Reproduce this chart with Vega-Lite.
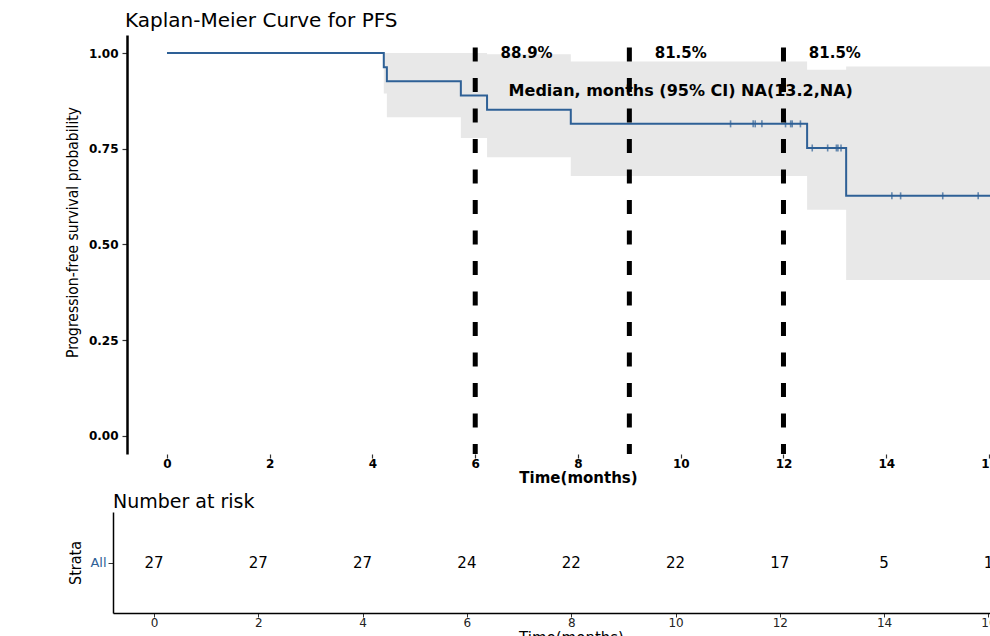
{
  "$schema": "https://vega.github.io/schema/vega-lite/v6.json",
  "padding": {"left": 65, "top": 10, "right": 0, "bottom": 0},
  "background": "white",
  "spacing": 8,
  "config": {"view": {"stroke": null}, "font": "DejaVu Sans"},
  "datasets": {
    "km": [
      {"time": 0, "surv": 1, "lower": 1, "upper": 1},
      {"time": 4.22, "surv": 0.963, "lower": 0.894, "upper": 1},
      {"time": 4.28, "surv": 0.926, "lower": 0.832, "upper": 1},
      {"time": 5.72, "surv": 0.889, "lower": 0.778, "upper": 1},
      {"time": 6.23, "surv": 0.852, "lower": 0.728, "upper": 0.997},
      {"time": 7.86, "surv": 0.815, "lower": 0.679, "upper": 0.978},
      {"time": 12.46, "surv": 0.752, "lower": 0.591, "upper": 0.956},
      {"time": 13.22, "surv": 0.627, "lower": 0.407, "upper": 0.965},
      {"time": 16.02, "surv": 0.627, "lower": 0.407, "upper": 0.965}
    ],
    "censor": [
      {"time": 10.97, "surv": 0.815},
      {"time": 11.41, "surv": 0.815},
      {"time": 11.45, "surv": 0.815},
      {"time": 11.58, "surv": 0.815},
      {"time": 12.04, "surv": 0.815},
      {"time": 12.14, "surv": 0.815},
      {"time": 12.17, "surv": 0.815},
      {"time": 12.33, "surv": 0.815},
      {"time": 12.56, "surv": 0.752},
      {"time": 12.86, "surv": 0.752},
      {"time": 13.03, "surv": 0.752},
      {"time": 13.06, "surv": 0.752},
      {"time": 13.12, "surv": 0.752},
      {"time": 14.11, "surv": 0.627},
      {"time": 14.28, "surv": 0.627},
      {"time": 15.10, "surv": 0.627},
      {"time": 15.79, "surv": 0.627}
    ],
    "marks": [
      {"time": 7, "surv": 1.0, "label": "88.9%"},
      {"time": 10, "surv": 1.0, "label": "81.5%"},
      {"time": 13, "surv": 1.0, "label": "81.5%"}
    ],
    "median": [
      {"time": 10, "surv": 0.9, "label": "Median, months (95% CI) NA(13.2,NA)"}
    ],
    "vlines": [{"time": 6}, {"time": 9}, {"time": 12}],
    "risk": [
      {"time": 0, "strata": "All", "n": 27},
      {"time": 2, "strata": "All", "n": 27},
      {"time": 4, "strata": "All", "n": 27},
      {"time": 6, "strata": "All", "n": 24},
      {"time": 8, "strata": "All", "n": 22},
      {"time": 10, "strata": "All", "n": 22},
      {"time": 12, "strata": "All", "n": 17},
      {"time": 14, "strata": "All", "n": 5},
      {"time": 16, "strata": "All", "n": 1}
    ]
  },
  "vconcat": [
    {
      "width": 877,
      "height": 419,
      "title": {"text": "Kaplan-Meier Curve for PFS", "anchor": "start", "frame": "group", "font": "DejaVu Sans", "fontSize": 20, "fontWeight": "normal", "color": "black", "offset": 2, "dx": 12},
      "layer": [
        {
          "data": {"name": "km"},
          "mark": {"type": "area", "interpolate": "step-after", "color": "#e8e8e8"},
          "encoding": {
            "x": {"field": "time", "type": "quantitative", "title": "Time(months)",
              "scale": {"domain": [-1.051, 16.02], "nice": false, "zero": false},
              "axis": {"values": [0, 2, 4, 6, 8, 10, 12, 14, 16], "grid": false, "domain": false, "tickColor": "#333", "tickSize": 4, "tickWidth": 1.2, "labelFont": "DejaVu Sans", "labelFontWeight": "bold", "labelFontSize": 12, "labelColor": "black", "labelPadding": 0, "labelFlush": false, "titleFont": "DejaVu Sans", "titleFontWeight": "bold", "titleFontSize": 15, "titleColor": "black", "titleX": 465, "titlePadding": 1}},
            "y": {"field": "lower", "type": "quantitative", "title": "Progression-free survival probability",
              "scale": {"domain": [-0.047, 1.047], "nice": false, "zero": false},
              "axis": {"values": [0, 0.25, 0.5, 0.75, 1], "format": ".2f", "offset": -14, "grid": false, "domainColor": "black", "domainWidth": 2.5, "tickColor": "#333", "tickSize": 5, "tickWidth": 1.2, "labelFont": "DejaVu Sans", "labelFontWeight": "bold", "labelFontSize": 12, "labelColor": "black", "labelPadding": 4, "titleFont": "Liberation Sans Narrow, DejaVu Sans Condensed, Liberation Sans", "titleFontWeight": "normal", "titleFontSize": 15.5, "titleColor": "black", "titlePadding": 8, "titleY": 197}},
            "y2": {"field": "upper"}
          }
        },
        {
          "mark": {"type": "rule", "color": "black", "strokeWidth": 2.5},
          "encoding": {
            "x": {"datum": -0.779, "type": "quantitative"},
            "x2": {"datum": 16.02},
            "y": {"datum": -0.047, "type": "quantitative"}
          }
        },
        {
          "data": {"name": "km"},
          "mark": {"type": "line", "interpolate": "step-after", "color": "#2e6096", "strokeWidth": 2},
          "encoding": {
            "x": {"field": "time", "type": "quantitative", "title": "Time(months)"},
            "y": {"field": "surv", "type": "quantitative", "title": "Progression-free survival probability"}
          }
        },
        {
          "data": {"name": "censor"},
          "mark": {"type": "tick", "orient": "vertical", "color": "#2e6096", "size": 7, "thickness": 1.6},
          "encoding": {
            "x": {"field": "time", "type": "quantitative", "title": "Time(months)"},
            "y": {"field": "surv", "type": "quantitative", "title": "Progression-free survival probability"}
          }
        },
        {
          "data": {"name": "marks"},
          "mark": {"type": "text", "font": "DejaVu Sans", "fontWeight": "bold", "fontSize": 15, "color": "black", "align": "center", "baseline": "middle"},
          "encoding": {
            "x": {"field": "time", "type": "quantitative", "title": "Time(months)"},
            "y": {"field": "surv", "type": "quantitative", "title": "Progression-free survival probability"},
            "text": {"field": "label"}
          }
        },
        {
          "data": {"name": "median"},
          "mark": {"type": "text", "font": "DejaVu Sans", "fontWeight": "bold", "fontSize": 16, "color": "black", "align": "center", "baseline": "middle"},
          "encoding": {
            "x": {"field": "time", "type": "quantitative", "title": "Time(months)"},
            "y": {"field": "surv", "type": "quantitative", "title": "Progression-free survival probability"},
            "text": {"field": "label"}
          }
        },
        {
          "data": {"name": "vlines"},
          "mark": {"type": "rule", "color": "black", "strokeWidth": 5, "strokeDash": [14, 16.5], "strokeDashOffset": 18},
          "encoding": {
            "x": {"field": "time", "type": "quantitative", "title": "Time(months)"}
          }
        }
      ]
    },
    {
      "width": 877,
      "height": 101,
      "title": {"text": "Number at risk", "anchor": "start", "frame": "group", "font": "DejaVu Sans", "fontSize": 19, "fontWeight": "normal", "color": "black", "offset": 0},
      "data": {"name": "risk"},
      "mark": {"type": "text", "font": "DejaVu Sans", "fontSize": 15, "color": "black", "align": "center", "baseline": "middle"},
      "encoding": {
        "x": {"field": "time", "type": "quantitative", "title": "Time(months)",
          "scale": {"domain": [-0.786, 16.03], "nice": false, "zero": false},
          "axis": {"values": [0, 2, 4, 6, 8, 10, 12, 14, 16], "grid": false, "domainColor": "black", "domainWidth": 1.5, "tickColor": "#333", "tickSize": 4, "tickWidth": 1, "labelFont": "DejaVu Sans", "labelFontSize": 12, "labelColor": "#222", "labelPadding": 0, "labelFlush": false, "titleFont": "DejaVu Sans", "titleFontWeight": "normal", "titleFontSize": 15, "titleColor": "black", "titleX": 458, "titlePadding": 2}},
        "y": {"field": "strata", "type": "nominal", "title": "Strata",
          "scale": {"domain": ["All"]},
          "axis": {"grid": false, "domainColor": "black", "domainWidth": 1.5, "tickColor": "#333", "tickSize": 5, "tickWidth": 1, "labelFont": "DejaVu Sans", "labelFontSize": 13, "labelColor": "#2e6096", "labelPadding": 2, "titleFont": "Liberation Sans Narrow, DejaVu Sans Condensed, Liberation Sans", "titleFontWeight": "normal", "titleFontSize": 16, "titleColor": "black", "titlePadding": 6}},
        "text": {"field": "n", "type": "quantitative"}
      }
    }
  ]
}
